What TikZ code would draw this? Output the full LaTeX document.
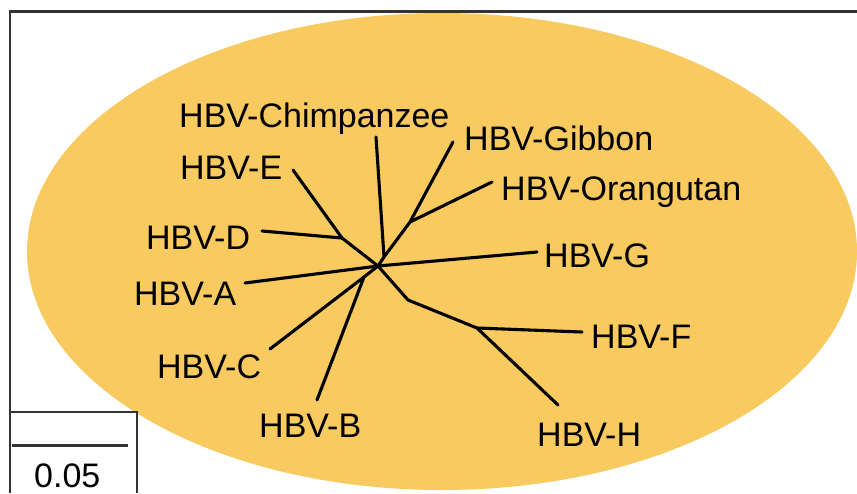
\documentclass[tikz,border=0pt]{standalone}
\usepackage{fontspec}
\setmainfont{Liberation Sans}
\definecolor{ellfill}{HTML}{F8CA5F}
\definecolor{framecol}{HTML}{333333}
\begin{document}
\begin{tikzpicture}[x=1pt,y=-1pt,
  lbl/.style={anchor=base west,inner sep=0pt,font=\fontsize{34}{40}\selectfont},
  branch/.style={line width=3.1pt,line cap=round,line join=round,black},
  framel/.style={line width=2.2pt,framecol}]
\useasboundingbox (0,0) rectangle (857,493);
\fill[white] (0,0) rectangle (857,493);
\fill[ellfill] (442,251.5) ellipse [x radius=415, y radius=238.5];
% frame
\draw[framel] (10,493) -- (10,11.5) -- (857,11.5);
\draw[framel] (10,412) -- (137,412) -- (137,493);
\coordinate (s1) at (12,445);
\coordinate (s2) at (128,445);
\draw[line width=3pt,framecol] (s1) -- (s2);
\node[lbl] (scale) at (34,487) {0.05};
% labels
\node[lbl] (lChimp) at (179,127) {HBV-Chimpanzee};
\node[lbl] (lE) at (180,179) {HBV-E};
\node[lbl] (lD) at (146,249) {HBV-D};
\node[lbl] (lA) at (134,305) {HBV-A};
\node[lbl] (lC) at (157,378) {HBV-C};
\node[lbl] (lB) at (259,437) {HBV-B};
\node[lbl] (lGib) at (464,150) {HBV-Gibbon};
\node[lbl] (lOr) at (501,200) {HBV-Orangutan};
\node[lbl] (lG) at (544,267) {HBV-G};
\node[lbl] (lF) at (591,348) {HBV-F};
\node[lbl] (lH) at (537,446) {HBV-H};
% tree points
\coordinate (root) at (378,266);
\coordinate (n1) at (384,257);
\coordinate (n2) at (410,222);
\coordinate (n3) at (342,238);
\coordinate (n4) at (364,277);
\coordinate (n5) at (408,300);
\coordinate (n6) at (477,328);
\coordinate (eChimp) at (376,137);
\coordinate (eGib) at (453,142);
\coordinate (eOr) at (492,182);
\coordinate (eE) at (293,170);
\coordinate (eD) at (262,231);
\coordinate (eA) at (245,283);
\coordinate (eC) at (270,349);
\coordinate (eB) at (317,400);
\coordinate (eG) at (537,252);
\coordinate (eF) at (582,332);
\coordinate (eH) at (558,405);
% branches
\draw[branch] (root) -- (n1) -- (eChimp);
\draw[branch] (n1) -- (n2) -- (eGib);
\draw[branch] (n2) -- (eOr);
\draw[branch] (root) -- (n3) -- (eE);
\draw[branch] (n3) -- (eD);
\draw[branch] (root) -- (eA);
\draw[branch] (root) -- (n4) -- (eC);
\draw[branch] (n4) -- (eB);
\draw[branch] (root) -- (eG);
\draw[branch] (root) -- (n5) -- (n6) -- (eF);
\draw[branch] (n6) -- (eH);
\end{tikzpicture}
\end{document}
